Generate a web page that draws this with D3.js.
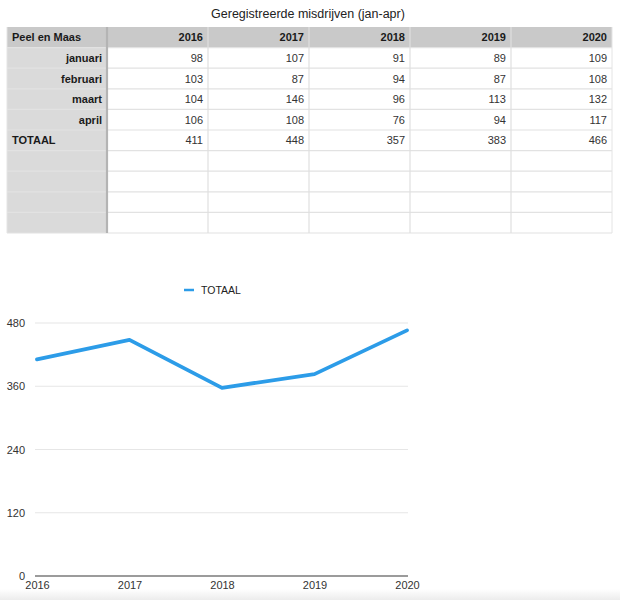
<!DOCTYPE html>
<html>
<head>
<meta charset="utf-8">
<script src="https://cdn.jsdelivr.net/npm/d3@7"></script>
<style>
  html, body { margin: 0; padding: 0; background: #fff; }
  svg { display: block; font-family: "Liberation Sans", Arial, Helvetica, sans-serif; }
</style>
</head>
<body>
<svg id="c" width="620" height="600"></svg>
<script>
// ---- data ----
const title = "Geregistreerde misdrijven (jan-apr)";
const cornerLabel = "Peel en Maas";
const years = ["2016", "2017", "2018", "2019", "2020"];
const months = ["januari", "februari", "maart", "april"];
const januari = [98, 107, 91, 89, 109];
const februari = [103, 87, 94, 87, 108];
const maart = [104, 146, 96, 113, 132];
const april = [106, 108, 76, 94, 117];
const totaalLabel = "TOTAAL";
const totaal = [411, 448, 357, 383, 466];
const emptyRows = 4;
const yTicks = [0, 120, 240, 360, 480];

const svg = d3.select("#c");

// faint bottom shadow
const defs = svg.append("defs");
const grad = defs.append("linearGradient").attr("id", "shade").attr("x1", 0).attr("x2", 0).attr("y1", 0).attr("y2", 1);
grad.append("stop").attr("offset", "0%").attr("stop-color", "#ffffff");
grad.append("stop").attr("offset", "100%").attr("stop-color", "#ececec");
svg.append("rect").attr("x", 0).attr("y", 589).attr("width", 620).attr("height", 11).attr("fill", "url(#shade)");

// ---- title ----
svg.append("text")
  .attr("x", 308).attr("y", 18)
  .attr("text-anchor", "middle")
  .attr("font-size", 12.5)
  .attr("fill", "#222")
  .text(title);

// ---- table ----
const tableRows = [
  { label: cornerLabel, values: years, header: true, left: true },
  ...months.map((m, i) => ({ label: m, values: [januari, februari, maart, april][i], header: false, left: false })),
  { label: totaalLabel, values: totaal, header: false, left: true },
  ...d3.range(emptyRows).map(() => ({ label: "", values: years.map(() => ""), header: false, left: false }))
];

const tLeft = 7, tRight = 612, firstColW = 100;
const rowScale = d3.scaleBand().domain(d3.range(tableRows.length)).range([27, 233]);
const colScale = d3.scaleBand().domain(years).range([tLeft + firstColW, tRight]);
const rh = rowScale.bandwidth();

const tg = svg.append("g");
tg.append("rect").attr("x", tLeft).attr("y", rowScale(0)).attr("width", tRight - tLeft).attr("height", 233 - 27).attr("fill", "#fff");
tg.append("rect").attr("x", tLeft).attr("y", rowScale(0)).attr("width", firstColW).attr("height", 233 - 27).attr("fill", "#dadada");
tg.append("rect").attr("x", tLeft).attr("y", rowScale(0)).attr("width", tRight - tLeft).attr("height", rh).attr("fill", "#c9c9c9");

tg.selectAll("line.h").data(d3.range(1, tableRows.length + 1)).join("line")
  .attr("x1", tLeft).attr("x2", tRight)
  .attr("y1", i => i === tableRows.length ? 233 : rowScale(i))
  .attr("y2", i => i === tableRows.length ? 233 : rowScale(i))
  .attr("stroke", "#e2e2e2").attr("stroke-width", 1.2);
tg.selectAll("line.v").data(years.slice(1)).join("line")
  .attr("x1", d => colScale(d)).attr("x2", d => colScale(d))
  .attr("y1", 27).attr("y2", 233)
  .attr("stroke", "#e0e0e0").attr("stroke-width", 1.2);
tg.append("line").attr("x1", tRight).attr("x2", tRight).attr("y1", 27).attr("y2", 233).attr("stroke", "#e4e4e4");
tg.append("line").attr("x1", tLeft + firstColW).attr("x2", tLeft + firstColW).attr("y1", 27).attr("y2", 233)
  .attr("stroke", "#b4b4b4").attr("stroke-width", 2.2);
tg.append("line").attr("x1", tLeft).attr("x2", tLeft).attr("y1", 27).attr("y2", 233).attr("stroke", "#e4e4e4");

tableRows.forEach((r, i) => {
  const cy = rowScale(i) + rh / 2 + 4;
  tg.append("text")
    .attr("x", r.left ? tLeft + 5 : tLeft + firstColW - 5)
    .attr("y", cy)
    .attr("text-anchor", r.left ? "start" : "end")
    .attr("font-size", 11).attr("font-weight", "bold").attr("fill", "#1a1a1a")
    .text(r.label);
  years.forEach((yr, j) => {
    tg.append("text")
      .attr("x", colScale(yr) + colScale.bandwidth() - 5)
      .attr("y", cy)
      .attr("text-anchor", "end")
      .attr("font-size", 11)
      .attr("font-weight", r.header ? "bold" : "normal")
      .attr("fill", r.header ? "#1a1a1a" : "#333")
      .text(r.values[j]);
  });
});

// ---- line chart ----
const x = d3.scalePoint().domain(years).range([37, 407]);
const y = d3.scaleLinear().domain([0, 480]).range([576, 323]);

const cg = svg.append("g");
cg.selectAll("line.grid").data(yTicks.filter(t => t !== 0)).join("line")
  .attr("x1", 35).attr("x2", 408)
  .attr("y1", d => y(d)).attr("y2", d => y(d))
  .attr("stroke", "#e6e6e6").attr("stroke-width", 1.2);
cg.append("line").attr("x1", 35).attr("x2", 408).attr("y1", y(0)).attr("y2", y(0))
  .attr("stroke", "#7a7a7a").attr("stroke-width", 1.6);

const yAxis = d3.axisLeft(y).tickValues(yTicks).tickSize(0).tickPadding(0);
const ya = cg.append("g").attr("transform", "translate(25,0)").call(yAxis);
ya.select(".domain").remove();
ya.selectAll("text").attr("font-size", 11).attr("fill", "#333").attr("font-family", "'Liberation Sans', Arial, sans-serif");

const xAxis = d3.axisBottom(x).tickSize(0).tickPadding(0);
const xa = cg.append("g").attr("transform", "translate(0,581)").call(xAxis);
xa.select(".domain").remove();
xa.selectAll("text").attr("font-size", 11).attr("fill", "#333").attr("font-family", "'Liberation Sans', Arial, sans-serif");

const line = d3.line().x((d, i) => x(years[i])).y(d => y(d));
cg.append("path").datum(totaal)
  .attr("d", line)
  .attr("fill", "none")
  .attr("stroke", "#2c9ce8")
  .attr("stroke-width", 3.8)
  .attr("stroke-linejoin", "round")
  .attr("stroke-linecap", "round");

// legend
cg.append("line").attr("x1", 184).attr("x2", 194).attr("y1", 290).attr("y2", 290)
  .attr("stroke", "#2c9ce8").attr("stroke-width", 2.5);
cg.append("text").attr("x", 201).attr("y", 294).attr("font-size", 10.5).attr("fill", "#222").text(totaalLabel);
</script>
</body>
</html>
